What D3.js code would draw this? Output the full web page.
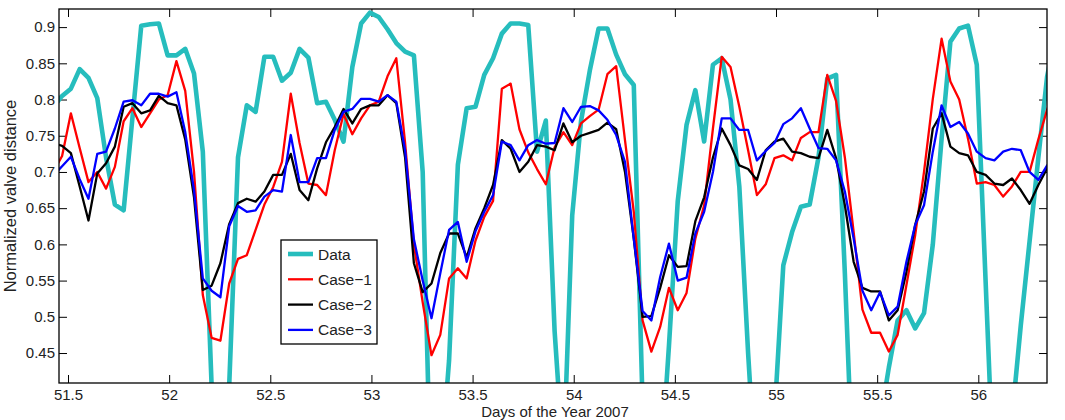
<!DOCTYPE html>
<html>
<head>
<meta charset="utf-8">
<script src="https://d3js.org/d3.v7.min.js"></script>
<style>
  body { margin: 0; background: #fff; }
  svg { display: block; font-family: "Liberation Sans", Arial, Helvetica, sans-serif; }
  .tick text { font-size: 15px; fill: #222; }
</style>
</head>
<body>
<div id="chart"></div>
<script>
// samples every 1/23 day, first one just left of the axes
var t0 = 51.4273;
var step = 1 / 23;

var dataSeries = [0.79, 0.805, 0.815, 0.842, 0.83, 0.802, 0.72, 0.655, 0.647, 0.775,
  0.902, 0.904, 0.905, 0.861, 0.861, 0.87, 0.836, 0.728, 0.405, 0.25,
  0.405, 0.72, 0.792, 0.783, 0.859, 0.859, 0.826, 0.837, 0.87, 0.858,
  0.795, 0.797, 0.772, 0.742, 0.845, 0.905, 0.92, 0.914, 0.897, 0.878,
  0.866, 0.861, 0.70, 0.22, 0.28, 0.44, 0.71, 0.788, 0.79, 0.834,
  0.857, 0.891, 0.905, 0.905, 0.903, 0.728, 0.771, 0.48, 0.30, 0.64,
  0.77, 0.84, 0.898, 0.898, 0.862, 0.835, 0.82, 0.38, 0.22, 0.277,
  0.46, 0.66, 0.765, 0.813, 0.742, 0.848, 0.857, 0.80, 0.68, 0.45,
  0.25, 0.25, 0.363, 0.571, 0.617, 0.652, 0.655, 0.72, 0.829, 0.834,
  0.56, 0.25, 0.2, 0.2, 0.355, 0.43, 0.495, 0.509, 0.484, 0.505,
  0.60, 0.746, 0.88, 0.898, 0.902, 0.848, 0.55, 0.25, 0.2, 0.36,
  0.488, 0.604, 0.72, 0.832, 0.89];

var case1 = [0.70, 0.722, 0.781, 0.733, 0.686, 0.70, 0.677, 0.707, 0.77, 0.788,
  0.762, 0.781, 0.80, 0.806, 0.853, 0.812, 0.70, 0.53, 0.471, 0.467,
  0.546, 0.58, 0.585, 0.62, 0.655, 0.679, 0.714, 0.808, 0.74, 0.684,
  0.682, 0.668, 0.73, 0.78, 0.752, 0.774, 0.792, 0.797, 0.832, 0.857,
  0.74, 0.60, 0.52, 0.447, 0.475, 0.553, 0.567, 0.553, 0.605, 0.638,
  0.66, 0.815, 0.822, 0.759, 0.727, 0.704, 0.683, 0.734, 0.755, 0.737,
  0.767, 0.777, 0.786, 0.835, 0.846, 0.744, 0.645, 0.495, 0.452, 0.486,
  0.54, 0.509, 0.533, 0.608, 0.654, 0.76, 0.859, 0.845, 0.79, 0.73,
  0.668, 0.683, 0.719, 0.723, 0.716, 0.747, 0.755, 0.755, 0.834, 0.798,
  0.72, 0.617, 0.51, 0.478, 0.478, 0.452, 0.475, 0.544, 0.613, 0.70,
  0.801, 0.884, 0.825, 0.80, 0.746, 0.684, 0.686, 0.682, 0.666, 0.68,
  0.70, 0.70, 0.745, 0.786, 0.82];

var case2 = [0.74, 0.736, 0.726, 0.68, 0.633, 0.698, 0.712, 0.735, 0.79, 0.795,
  0.781, 0.785, 0.805, 0.795, 0.792, 0.745, 0.665, 0.537, 0.543, 0.574,
  0.628, 0.657, 0.663, 0.659, 0.673, 0.696, 0.696, 0.725, 0.675, 0.661,
  0.705, 0.741, 0.762, 0.787, 0.767, 0.787, 0.792, 0.792, 0.806, 0.795,
  0.72, 0.574, 0.534, 0.546, 0.588, 0.615, 0.615, 0.582, 0.622, 0.65,
  0.682, 0.744, 0.732, 0.70, 0.714, 0.737, 0.735, 0.73, 0.767, 0.741,
  0.75, 0.754, 0.758, 0.768, 0.759, 0.70, 0.608, 0.50, 0.501, 0.54,
  0.585, 0.569, 0.57, 0.632, 0.665, 0.72, 0.76, 0.737, 0.709, 0.704,
  0.689, 0.73, 0.742, 0.746, 0.728, 0.726, 0.721, 0.719, 0.758, 0.719,
  0.654, 0.576, 0.54, 0.535, 0.535, 0.495, 0.509, 0.562, 0.627, 0.673,
  0.76, 0.781, 0.735, 0.726, 0.723, 0.70, 0.696, 0.684, 0.682, 0.691,
  0.675, 0.656, 0.682, 0.705, 0.73];

var case3 = [0.695, 0.708, 0.721, 0.69, 0.663, 0.725, 0.728, 0.76, 0.797, 0.799,
  0.792, 0.808, 0.808, 0.804, 0.81, 0.755, 0.675, 0.553, 0.536, 0.527,
  0.625, 0.653, 0.645, 0.647, 0.666, 0.675, 0.673, 0.751, 0.686, 0.686,
  0.719, 0.719, 0.758, 0.783, 0.787, 0.801, 0.801, 0.797, 0.806, 0.797,
  0.73, 0.607, 0.55, 0.498, 0.56, 0.62, 0.631, 0.576, 0.618, 0.645,
  0.668, 0.742, 0.737, 0.716, 0.737, 0.744, 0.739, 0.74, 0.788, 0.769,
  0.79, 0.791, 0.785, 0.772, 0.751, 0.714, 0.608, 0.508, 0.495, 0.555,
  0.601, 0.55, 0.554, 0.615, 0.645, 0.70, 0.774, 0.774, 0.758, 0.758,
  0.716, 0.729, 0.74, 0.766, 0.774, 0.788, 0.76, 0.733, 0.732, 0.716,
  0.673, 0.608, 0.536, 0.509, 0.534, 0.502, 0.514, 0.576, 0.627, 0.654,
  0.728, 0.792, 0.762, 0.769, 0.753, 0.728, 0.719, 0.716, 0.728, 0.732,
  0.73, 0.70, 0.689, 0.709, 0.72];

var xTicks = [51.5, 52, 52.5, 53, 53.5, 54, 54.5, 55, 55.5, 56];
var yTicks = [0.45, 0.5, 0.55, 0.6, 0.65, 0.7, 0.75, 0.8, 0.85, 0.9];

var series = [
  { name: "Data", values: dataSeries, color: "#26bdbd", width: 4.6 },
  { name: "Case\u22121", values: case1, color: "#ff0000", width: 2.3 },
  { name: "Case\u22122", values: case2, color: "#000000", width: 2.3 },
  { name: "Case\u22123", values: case3, color: "#0000ff", width: 2.3 }
];

var W = 1065, H = 420;
var pLeft = 59, pRight = 1047, pTop = 9, pBottom = 383;

var svg = d3.select("#chart").append("svg")
  .attr("width", W).attr("height", H);

var x = d3.scaleLinear().domain([51.4555, 56.3396]).range([pLeft, pRight]);
var y = d3.scaleLinear().domain([0.4086, 0.925]).range([pBottom, pTop]);

svg.append("clipPath").attr("id", "plotClip")
  .append("rect")
  .attr("x", pLeft).attr("y", pTop)
  .attr("width", pRight - pLeft).attr("height", pBottom - pTop);

var fmt = function(d) { return String(+d.toFixed(2)); };

// axes, ticks pointing inwards on all four sides
svg.append("g")
  .attr("transform", "translate(0," + pBottom + ")")
  .call(d3.axisBottom(x).tickValues(xTicks).tickFormat(fmt).tickSizeInner(-8).tickSizeOuter(0).tickPadding(6))
  .call(g => g.select(".domain").remove());
svg.append("g")
  .attr("transform", "translate(0," + pTop + ")")
  .call(d3.axisTop(x).tickValues(xTicks).tickFormat("").tickSizeInner(-8).tickSizeOuter(0))
  .call(g => g.select(".domain").remove());
svg.append("g")
  .attr("transform", "translate(" + pLeft + ",0)")
  .call(d3.axisLeft(y).tickValues(yTicks).tickFormat(fmt).tickSizeInner(-8).tickSizeOuter(0).tickPadding(4))
  .call(g => g.select(".domain").remove());
svg.append("g")
  .attr("transform", "translate(" + pRight + ",0)")
  .call(d3.axisRight(y).tickValues(yTicks).tickFormat("").tickSizeInner(-8).tickSizeOuter(0))
  .call(g => g.select(".domain").remove());

svg.selectAll(".tick line").attr("stroke", "#000").attr("stroke-width", 1);

var line = d3.line()
  .x((d, i) => x(t0 + i * step))
  .y(d => y(d));

var plot = svg.append("g").attr("clip-path", "url(#plotClip)");
series.forEach(function(s) {
  plot.append("path")
    .datum(s.values)
    .attr("fill", "none")
    .attr("stroke", s.color)
    .attr("stroke-width", s.width)
    .attr("stroke-linejoin", "round")
    .attr("d", line);
});

svg.append("rect")
  .attr("x", pLeft).attr("y", pTop)
  .attr("width", pRight - pLeft).attr("height", pBottom - pTop)
  .attr("fill", "none").attr("stroke", "#000").attr("stroke-width", 1.3);

// legend
var lg = svg.append("g").attr("transform", "translate(281,240)");
lg.append("rect")
  .attr("width", 96).attr("height", 104)
  .attr("fill", "#fff").attr("stroke", "#000").attr("stroke-width", 1.3);
series.forEach(function(s, i) {
  var yy = 14 + i * 25.3;
  lg.append("line")
    .attr("x1", 7).attr("x2", 32).attr("y1", yy).attr("y2", yy)
    .attr("stroke", s.color).attr("stroke-width", s.width);
  lg.append("text")
    .attr("x", 37).attr("y", yy + 5.5)
    .attr("font-size", 15.5).attr("fill", "#222")
    .text(s.name);
});

svg.append("text")
  .attr("x", 555).attr("y", 416.8)
  .attr("text-anchor", "middle").attr("font-size", 15).attr("fill", "#222")
  .text("Days of the Year 2007");

svg.append("text")
  .attr("transform", "translate(15.5," + ((pTop + pBottom) / 2) + ") rotate(-90)")
  .attr("text-anchor", "middle").attr("font-size", 16.5).attr("fill", "#222")
  .text("Normalized valve distance");
</script>
</body>
</html>
